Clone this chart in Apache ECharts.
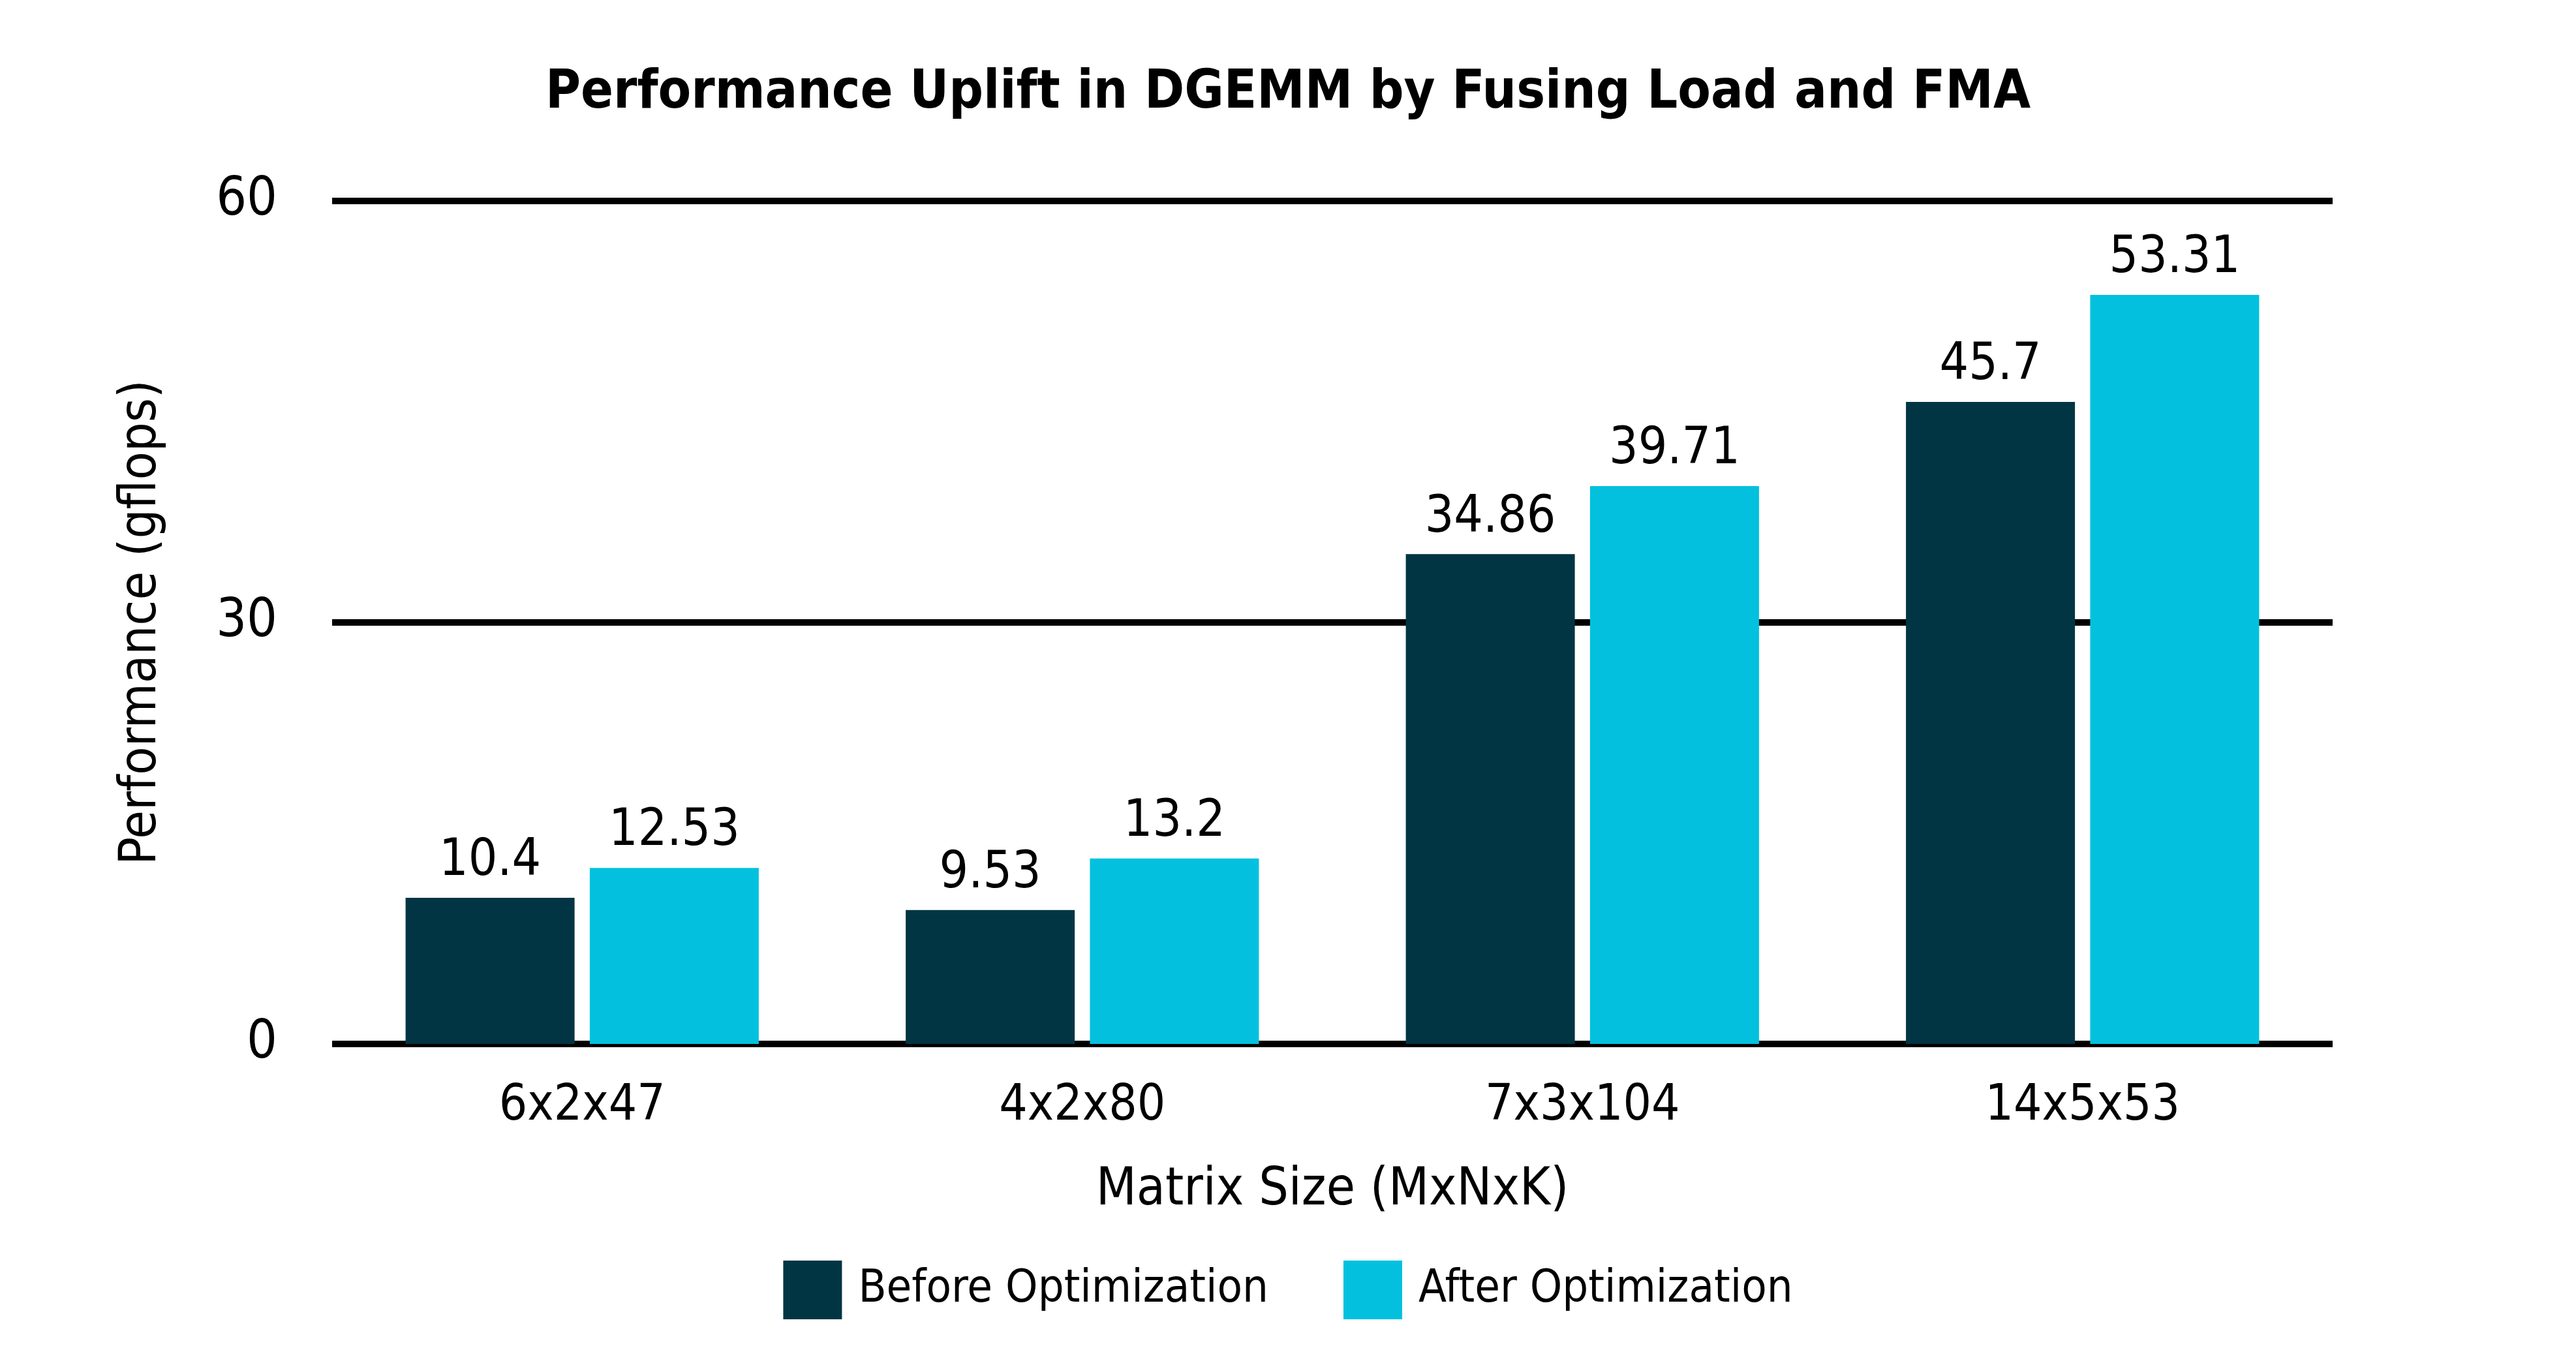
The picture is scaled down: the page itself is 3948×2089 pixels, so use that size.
<!DOCTYPE html>
<html>
<head>
<meta charset="utf-8">
<script src="https://cdn.jsdelivr.net/npm/echarts@6/dist/echarts.min.js"></script>
<style>
  html, body { margin: 0; padding: 0; background: #fff; }
  #chart { width: 3948px; height: 2089px; }
</style>
</head>
<body>
<div id="chart"></div>
<script>
// data
var categories = ['6x2x47', '4x2x80', '7x3x104', '14x5x53'];
var beforeValues = [10.4, 9.53, 34.86, 45.7];
var afterValues = [12.53, 13.2, 39.71, 53.31];
var seriesNames = ['Before Optimization', 'After Optimization'];
var yTicks = [0, 30, 60];

var font = '"Liberation Sans Narrow", "DejaVu Sans Condensed", sans-serif';

var chart = echarts.init(document.getElementById('chart'));

var labelStyle = {
    show: true,
    position: 'top',
    distance: 16,
    fontFamily: font,
    fontSize: 78,
    color: '#000'
};

var option = {
    backgroundColor: '#fff',
    animation: false,
    title: {
        text: 'Performance Uplift in DGEMM by Fusing Load and FMA',
        left: 'center',
        top: 98,
        textStyle: {
            fontFamily: font,
            fontWeight: 'bold',
            fontSize: 82,
            color: '#000'
        }
    },
    legend: {
        bottom: 62,
        left: 'center',
        itemWidth: 90,
        itemHeight: 90,
        itemGap: 115,
        icon: 'rect',
        formatter: function (name) {
            return ' ' + name;
        },
        textStyle: {
            fontFamily: font,
            fontSize: 70,
            color: '#000'
        },
        data: seriesNames
    },
    grid: {
        left: 509,
        right: 373,
        top: 308,
        bottom: 489,
        containLabel: false
    },
    xAxis: {
        type: 'category',
        data: categories,
        name: 'Matrix Size (MxNxK)',
        nameLocation: 'middle',
        nameGap: 185,
        nameTextStyle: {
            fontFamily: font,
            fontSize: 80,
            color: '#000'
        },
        axisLine: { show: false },
        axisTick: { show: false },
        axisLabel: {
            margin: 58,
            fontFamily: font,
            fontSize: 76,
            color: '#000'
        }
    },
    yAxis: {
        type: 'value',
        min: yTicks[0],
        max: yTicks[yTicks.length - 1],
        interval: yTicks[1] - yTicks[0],
        name: 'Performance (gflops)',
        nameLocation: 'middle',
        nameGap: 252,
        nameTextStyle: {
            fontFamily: font,
            fontSize: 79,
            color: '#000'
        },
        axisLine: { show: false },
        axisTick: { show: false },
        axisLabel: {
            margin: 84,
            fontFamily: font,
            fontSize: 82,
            color: '#000'
        },
        splitLine: {
            show: true,
            lineStyle: { color: '#000', width: 10 }
        }
    },
    series: [
        {
            name: seriesNames[0],
            type: 'bar',
            data: beforeValues,
            barWidth: 259,
            barGap: '9%',
            itemStyle: { color: '#023543' },
            label: labelStyle
        },
        {
            name: seriesNames[1],
            type: 'bar',
            data: afterValues,
            barWidth: 259,
            barGap: '9%',
            itemStyle: { color: '#03C1DE' },
            label: labelStyle
        }
    ]
};

chart.setOption(option);
</script>
</body>
</html>
